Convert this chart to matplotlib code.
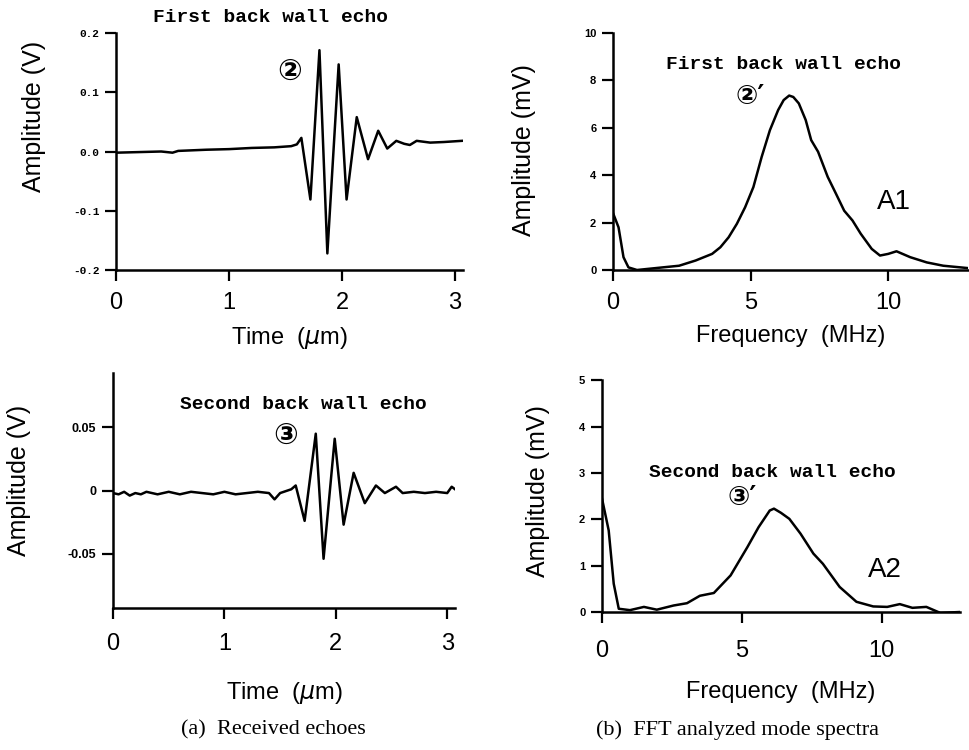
import matplotlib.pyplot as plt
import numpy as np

plt.rcParams['font.family'] = ['Liberation Sans', 'DejaVu Sans']

# first back wall echo (time in us, amplitude in V)
t1 = [0.0, 0.2, 0.4, 0.5, 0.55, 0.8, 1.0, 1.2, 1.4, 1.55, 1.60, 1.64, 1.72, 1.80,
      1.87, 1.97, 2.04, 2.13, 2.23, 2.32, 2.40, 2.48, 2.55, 2.60, 2.66, 2.78, 2.9, 3.06]
v1 = [-0.002, -0.001, 0.0, -0.002, 0.001, 0.003, 0.004, 0.006, 0.007, 0.009, 0.012, 0.023,
      -0.081, 0.171, -0.172, 0.147, -0.081, 0.058, -0.013, 0.035, 0.005, 0.018, 0.013,
      0.011, 0.018, 0.015, 0.016, 0.018]

# second back wall echo
t2 = [0.0, 0.05, 0.1, 0.15, 0.2, 0.25, 0.3, 0.4, 0.5, 0.6, 0.7, 0.8, 0.9, 1.0, 1.1,
      1.2, 1.3, 1.4, 1.45, 1.5, 1.6, 1.64, 1.72, 1.82, 1.89, 1.99, 2.07, 2.16, 2.26,
      2.36, 2.44, 2.54, 2.6, 2.7, 2.8, 2.9, 3.0, 3.04, 3.07]
v2 = [-0.002, -0.003, -0.001, -0.004, -0.002, -0.003, -0.001, -0.003, -0.001, -0.003,
      -0.001, -0.002, -0.003, -0.001, -0.003, -0.002, -0.001, -0.002, -0.007, -0.002,
      0.001, 0.004, -0.024, 0.045, -0.054, 0.041, -0.027, 0.014, -0.010, 0.004, -0.002,
      0.003, -0.002, -0.001, -0.002, -0.001, -0.002, 0.003, 0.001]

# FFT spectrum of the first echo (MHz, mV)
f1 = [0.0, 0.2, 0.38, 0.56, 0.87, 1.8, 2.4, 3.0, 3.6, 3.9, 4.2, 4.5, 4.8, 5.1, 5.4,
      5.7, 6.0, 6.2, 6.4, 6.55, 6.75, 7.0, 7.2, 7.45, 7.8, 8.1, 8.4, 8.7, 9.0, 9.4,
      9.7, 10.0, 10.3, 10.8, 11.4, 12.0, 12.9]
a1 = [2.4, 1.8, 0.54, 0.11, 0.0, 0.11, 0.18, 0.4, 0.68, 0.96, 1.38, 1.95, 2.65, 3.5,
      4.77, 5.9, 6.75, 7.17, 7.36, 7.3, 7.03, 6.33, 5.48, 4.99, 3.93, 3.22, 2.5, 2.09,
      1.53, 0.89, 0.61, 0.68, 0.79, 0.54, 0.32, 0.18, 0.08]

# FFT spectrum of the second echo
f2 = [0.0, 0.24, 0.42, 0.6, 1.0, 1.5, 1.96, 2.56, 3.04, 3.5, 4.0, 4.6, 5.2, 5.6, 6.0,
      6.15, 6.4, 6.7, 7.1, 7.56, 7.9, 8.5, 9.1, 9.7, 10.2, 10.65, 11.1, 11.6, 12.1, 12.8]
a2 = [2.45, 1.76, 0.61, 0.07, 0.04, 0.11, 0.05, 0.14, 0.19, 0.35, 0.41, 0.79, 1.4,
      1.83, 2.19, 2.23, 2.14, 2.01, 1.69, 1.26, 1.04, 0.54, 0.22, 0.12, 0.11, 0.17,
      0.09, 0.11, -0.02, 0.0]

fig = plt.figure(figsize=(9.7, 7.5), dpi=100)
ax_tl = fig.add_axes([0.1196, 0.64, 0.3577, 0.316])
ax_tr = fig.add_axes([0.632, 0.64, 0.366, 0.316])
ax_bl = fig.add_axes([0.1165, 0.1893, 0.3526, 0.3133])
ax_br = fig.add_axes([0.6206, 0.184, 0.369, 0.309])

mono = ['Liberation Mono', 'DejaVu Sans Mono']
circ = ['DejaVu Sans', 'Noto Sans CJK JP']


def style(ax, xpad=8):
    for s in ['top', 'right']:
        ax.spines[s].set_visible(False)
    for s in ['left', 'bottom']:
        ax.spines[s].set_linewidth(1.8)
    ax.tick_params(direction='out', length=8, width=1.6, pad=4)
    ax.tick_params(axis='x', labelsize=17, pad=xpad)


# top left: received echo 1
ax_tl.plot(t1, v1, color='black', lw=1.8)
ax_tl.set_xlim(0, 3.07)
ax_tl.set_ylim(-0.2, 0.2)
ax_tl.set_xticks([0, 1, 2, 3])
ax_tl.set_yticks([-0.2, -0.1, 0.0, 0.1, 0.2])
ax_tl.set_yticklabels(['-0.2', '-0.1', '0.0', '0.1', '0.2'],
                      fontsize=8, fontweight='bold', family=mono)
style(ax_tl)
ax_tl.set_xlabel('Time  ($\\mu$m)', fontsize=17, labelpad=8)
ax_tl.set_ylabel('Amplitude (V)', fontsize=18)
ax_tl.yaxis.set_label_coords(-0.202, 0.65)
ax_tl.text(1.37, 0.212, 'First back wall echo', family=mono, fontweight='bold',
           fontsize=14, ha='center', va='bottom', clip_on=False)
ax_tl.text(1.54, 0.135, '②', family=circ, fontweight='bold', fontsize=21,
           ha='center', va='center')

# top right: spectrum 1
ax_tr.plot(f1, a1, color='black', lw=1.8)
ax_tr.set_xlim(0, 12.9)
ax_tr.set_ylim(0, 10)
ax_tr.set_xticks([0, 5, 10])
ax_tr.set_yticks([0, 2, 4, 6, 8, 10])
ax_tr.set_yticklabels(['0', '2', '4', '6', '8', '10'], fontsize=8, fontweight='bold')
style(ax_tr)
ax_tr.set_xlabel('Frequency  (MHz)', fontsize=17, labelpad=8)
ax_tr.set_ylabel('Amplitude (mV)', fontsize=18)
ax_tr.yaxis.set_label_coords(-0.216, 0.506)
ax_tr.text(6.2, 8.65, 'First back wall echo', family=mono, fontweight='bold',
           fontsize=14, ha='center', va='center')
ax_tr.text(5.0, 7.3, "②′", family=circ, fontweight='bold', fontsize=19,
           ha='center', va='center')
ax_tr.text(10.2, 2.85, 'A1', fontsize=20, ha='center', va='center')

# bottom left: received echo 2
ax_bl.plot(t2, v2, color='black', lw=1.8)
ax_bl.set_xlim(0, 3.07)
ax_bl.set_ylim(-0.093, 0.093)
ax_bl.set_xticks([0, 1, 2, 3])
ax_bl.set_yticks([-0.05, 0, 0.05])
ax_bl.set_yticklabels(['-0.05', '0', '0.05'], fontsize=9, fontweight='bold')
style(ax_bl, xpad=10)
ax_bl.set_xlabel('Time  ($\\mu$m)', fontsize=17, labelpad=18)
ax_bl.set_ylabel('Amplitude (V)', fontsize=18)
ax_bl.yaxis.set_label_coords(-0.240, 0.545)
ax_bl.text(1.71, 0.0685, 'Second back wall echo', family=mono, fontweight='bold',
           fontsize=14, ha='center', va='center')
ax_bl.text(1.55, 0.043, '③', family=circ, fontweight='bold', fontsize=21,
           ha='center', va='center')

# bottom right: spectrum 2
ax_br.plot(f2, a2, color='black', lw=1.8)
ax_br.set_xlim(0, 12.8)
ax_br.set_ylim(0, 5)
ax_br.set_xticks([0, 5, 10])
ax_br.set_yticks([0, 1, 2, 3, 4, 5])
ax_br.set_yticklabels(['0', '1', '2', '3', '4', '5'], fontsize=8, fontweight='bold')
style(ax_br, xpad=12)
ax_br.set_xlabel('Frequency  (MHz)', fontsize=17, labelpad=14)
ax_br.set_ylabel('Amplitude (mV)', fontsize=18)
ax_br.yaxis.set_label_coords(-0.145, 0.52)
ax_br.text(6.1, 3.0, 'Second back wall echo', family=mono, fontweight='bold',
           fontsize=14, ha='center', va='center')
ax_br.text(5.0, 2.45, "③′", family=circ, fontweight='bold', fontsize=19,
           ha='center', va='center')
ax_br.text(10.1, 0.9, 'A2', fontsize=20, ha='center', va='center')

# captions
serif = ['Liberation Serif', 'DejaVu Serif']
fig.text(0.282, 0.027, '(a)  Received echoes', family=serif, fontsize=16,
         ha='center', va='center')
fig.text(0.76, 0.027, '(b)  FFT analyzed mode spectra', family=serif, fontsize=16,
         ha='center', va='center')

fig.savefig('out.png', dpi=100)
